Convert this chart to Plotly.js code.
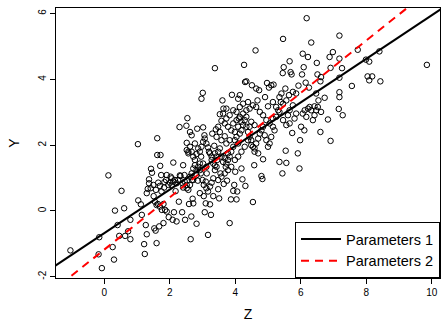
<!DOCTYPE html>
<html>
<head>
<meta charset="utf-8">
<script src="https://cdn.plot.ly/plotly-3.0.1.min.js"></script>
<style>html,body{margin:0;padding:0;background:#fff;}#chart{width:441px;height:322px;}</style>
</head>
<body>
<div id="chart"></div>
<script>
// Scatter sample (Z, Y)
const zValues = [
  -1.03,-0.15,-0.17,-0.07,0.13,0.33,0.53,0.61,0.41,0.46,
  0.26,0.30,0.64,0.73,0.80,0.80,1.03,1.04,1.12,1.15,
  1.22,1.24,1.27,1.30,1.30,1.33,1.37,1.43,1.46,1.51,
  1.53,1.57,1.60,1.62,1.62,1.64,1.68,1.71,1.72,1.74,
  1.76,1.81,1.81,1.84,1.91,1.91,1.97,2.03,2.06,2.09,
  2.11,2.13,2.18,2.21,2.28,2.30,2.31,2.38,2.41,2.45,
  2.47,2.51,2.52,2.54,2.57,2.59,2.62,2.64,2.66,2.67,
  2.68,2.70,2.72,2.77,2.82,2.84,2.86,2.92,2.96,2.97,
  3.01,3.02,3.04,3.06,3.07,3.10,3.13,3.17,3.20,3.23,
  3.26,3.30,3.33,3.36,3.38,3.41,3.45,3.48,3.51,3.53,
  3.55,3.58,3.61,3.64,3.65,3.68,3.71,3.73,3.75,3.78,
  3.83,3.87,3.90,3.94,3.97,4.00,4.04,4.06,4.09,4.11,
  4.14,4.19,4.22,4.27,4.30,4.31,4.34,4.39,4.44,4.51,
  4.54,4.58,4.62,4.64,4.68,4.73,4.80,4.83,4.85,4.91,
  4.97,5.00,5.03,5.10,5.17,5.25,5.31,5.35,5.39,5.44,
  5.45,5.46,5.48,5.53,5.54,5.56,5.61,5.64,5.66,5.69,
  5.72,5.74,5.76,5.81,5.86,5.91,5.93,5.96,5.98,6.01,
  6.04,6.06,6.09,6.11,6.15,6.18,6.22,6.25,6.27,6.32,
  6.37,6.42,6.47,6.49,6.51,6.54,6.60,6.62,6.62,6.60,
  6.73,6.83,6.88,6.91,6.91,6.98,7.16,7.18,7.18,7.18,
  7.18,7.18,7.26,7.28,7.56,7.74,7.99,8.04,8.09,8.09,8.18,8.40,8.43,9.85,
  1.37,1.42,1.50,1.58,1.65,1.70,1.75,1.83,1.89,1.96,
  2.01,2.06,2.11,2.16,2.21,2.26,2.33,2.39,2.46,2.41,
  2.52,2.57,2.62,2.67,2.72,2.77,2.82,2.87,2.92,2.95,
  3.00,3.04,3.10,3.12,3.17,3.23,3.28,3.33,3.38,3.43,
  1.55,1.60,1.70,1.86,
  2.52,2.57,2.62,2.67,2.72,2.77,2.82,2.87,2.92,2.97,
  3.02,3.07,3.12,3.17,3.23,3.28,3.33,3.38,3.43,3.48,
  3.53,3.58,3.63,3.68,3.73,3.78,3.83,3.88,3.94,3.99,
  4.04,4.09,4.14,4.19,4.24,4.29,4.34,4.39,4.44,4.49,
  4.54,4.59,4.64,4.70,4.75,4.80,4.85,4.90,4.95,5.00,
  5.05,5.10,5.15,5.20,3.94,4.04,4.14,4.24,4.34,4.44,
  4.54,4.64,4.75,4.85,4.95,5.05,5.15,4.34,4.49,4.59,
  4.39,4.49,4.59,4.70,4.29,4.19,4.09,3.99,3.88,3.78,
  3.68,3.58,3.48,3.38,3.28,3.12,3.02,2.92,2.82,2.72,
  2.62,2.52,3.63,3.73,3.83,3.94,4.04,4.14,4.24,3.68,
  3.78,3.88,3.99,4.09,4.19,3.48,3.53,3.43,3.58,3.73,
  3.83,5.15,5.25,5.35,5.46,5.56,5.66,5.76,5.86,5.46,
  5.56,5.66,5.35,5.41,6.06,6.12,6.22,6.32,6.47,6.52,
  6.42,6.17
];
const yValues = [
  -1.20,-0.80,-1.32,-1.74,1.08,0.01,0.61,0.08,-0.43,-0.76,
  -1.10,-1.48,-0.76,-0.62,-0.27,-0.86,2.03,0.32,0.20,-0.12,
  -1.01,-1.31,-0.43,-0.71,0.54,0.67,0.84,1.28,1.16,0.45,
  -0.53,-0.60,-0.98,2.21,1.70,0.21,-0.47,1.37,1.70,1.09,
  0.03,0.21,-0.37,0.88,1.09,-0.02,-0.19,1.04,0.78,-0.27,
  1.47,-0.04,0.60,-0.32,0.28,2.55,1.08,-0.04,1.39,1.09,
  -0.27,2.59,2.07,2.82,1.80,0.21,2.40,-0.86,-0.17,2.30,
  0.94,0.37,0.23,2.05,-0.39,2.50,0.92,0.54,1.65,3.41,
  3.59,2.54,0.45,2.30,-0.04,0.23,1.14,-0.73,1.80,0.20,
  -0.12,2.35,0.45,1.98,4.34,2.48,1.55,0.66,0.38,2.94,
  1.14,2.74,3.36,3.11,0.82,2.27,1.34,3.11,0.92,1.75,
  -0.37,0.35,3.53,0.61,0.79,1.19,0.35,0.59,3.41,2.81,
  3.52,1.29,0.96,4.44,3.92,0.76,3.94,3.31,2.56,3.82,
  0.27,1.39,4.88,3.72,3.36,3.67,1.06,0.97,1.57,3.46,
  3.89,3.18,3.75,3.82,3.84,2.86,3.06,1.49,3.31,1.14,
  4.19,5.23,4.37,3.72,1.83,1.46,2.91,3.52,4.55,4.22,
  4.15,2.37,3.62,2.81,3.57,1.75,3.81,1.29,2.15,2.56,
  4.15,4.78,4.37,2.45,3.90,5.86,4.68,3.75,3.16,5.12,
  2.76,3.18,3.57,4.50,4.15,3.36,3.94,4.07,3.01,2.40,
  3.44,2.78,4.68,2.13,4.35,4.83,3.10,4.05,5.33,4.63,
  3.61,3.46,4.34,2.91,3.80,4.90,4.60,4.09,3.97,4.54,4.09,4.85,3.94,4.44,
  0.96,0.69,0.79,0.64,0.86,0.76,0.59,0.71,0.94,0.79,
  0.86,0.99,0.89,0.94,0.84,0.94,1.06,0.84,0.89,0.71,
  0.79,0.64,1.04,1.14,1.29,1.39,1.24,1.34,1.44,1.14,
  0.94,0.79,0.89,0.69,0.59,0.74,0.86,0.99,1.24,1.34,
  0.28,0.18,0.13,0.03,
  1.85,1.75,1.95,1.80,1.65,1.55,1.73,1.90,1.80,1.95,
  2.10,2.20,2.05,1.93,1.75,1.65,1.44,1.38,1.65,1.80,
  1.90,1.65,1.49,1.60,1.44,1.55,1.65,1.80,1.95,2.15,
  2.25,2.05,2.35,2.45,2.61,2.76,2.56,2.40,2.25,2.15,
  1.95,1.80,2.05,2.20,2.35,2.45,2.56,2.30,2.15,1.95,
  2.05,2.25,2.56,2.45,2.66,2.76,2.86,2.96,3.06,3.11,
  3.21,3.16,3.01,2.91,2.76,2.66,2.81,2.86,2.71,2.61,
  2.15,2.00,1.90,1.75,1.95,1.80,1.65,1.55,1.34,1.24,
  1.14,1.04,0.94,1.75,1.55,1.34,1.44,1.24,1.09,0.94,
  0.79,0.69,2.96,2.81,2.91,3.06,3.01,3.16,3.26,2.66,
  2.56,2.45,2.40,2.56,2.71,2.56,2.40,2.25,2.15,2.05,
  2.15,3.31,3.16,3.01,3.26,3.36,3.06,3.21,2.96,2.76,
  2.61,2.66,3.46,3.57,2.96,3.06,3.11,3.06,3.06,3.16,
  2.91,2.86
];

// Line parameters [intercept, slope]
const seriesNames = ["Parameters 1", "Parameters 2"];
const params1 = [-0.68, 0.663];
const params2 = [-1.18, 0.795];
const lineZ = [-2, 11];

const xTicks = [0, 2, 4, 6, 8, 10];
const yTicks = [-2, 0, 2, 4, 6];

const lineY = p => lineZ.map(z => p[0] + p[1] * z);

const traces = [
  {
    x: zValues, y: yValues, type: 'scatter', mode: 'markers', showlegend: false,
    marker: {symbol: 'circle-open', size: 5.5, color: '#000', line: {width: 1, color: '#000'}},
    cliponaxis: true, hoverinfo: 'skip'
  },
  {
    x: lineZ, y: lineY(params1), type: 'scatter', mode: 'lines', name: seriesNames[0],
    line: {color: '#000', width: 2}
  },
  {
    x: lineZ, y: lineY(params2), type: 'scatter', mode: 'lines', name: seriesNames[1],
    line: {color: '#ff0000', width: 2, dash: '8px,6px'}
  }
];

const axisCommon = {
  showgrid: false, zeroline: false, showline: true, mirror: true,
  linecolor: '#000', linewidth: 1, ticks: 'outside', ticklen: 5,
  tickcolor: '#000', tickwidth: 1, tickfont: {size: 10, color: '#000'}
};

const layout = {
  width: 441, height: 322,
  margin: {l: 56, r: 1, t: 8, b: 44},
  paper_bgcolor: '#fff', plot_bgcolor: '#fff',
  font: {family: 'Liberation Sans, Arial, sans-serif', color: '#000'},
  xaxis: Object.assign({}, axisCommon, {
    range: [-1.47, 10.25], tickvals: xTicks, ticktext: xTicks.map(String),
    title: {text: 'Z', font: {size: 14}, standoff: 14}
  }),
  yaxis: Object.assign({}, axisCommon, {
    range: [-2.04, 6.17], tickvals: yTicks, ticktext: yTicks.map(String),
    tickangle: -90,
    title: {text: 'Y', font: {size: 14}, standoff: 14}
  }),
  legend: {
    x: 1, y: 0, xanchor: 'right', yanchor: 'bottom',
    bgcolor: '#fff', bordercolor: '#000', borderwidth: 1,
    font: {size: 14.5}, itemwidth: 40
  }
};

Plotly.newPlot('chart', traces, layout, {staticPlot: true, displayModeBar: false});
</script>
</body>
</html>
